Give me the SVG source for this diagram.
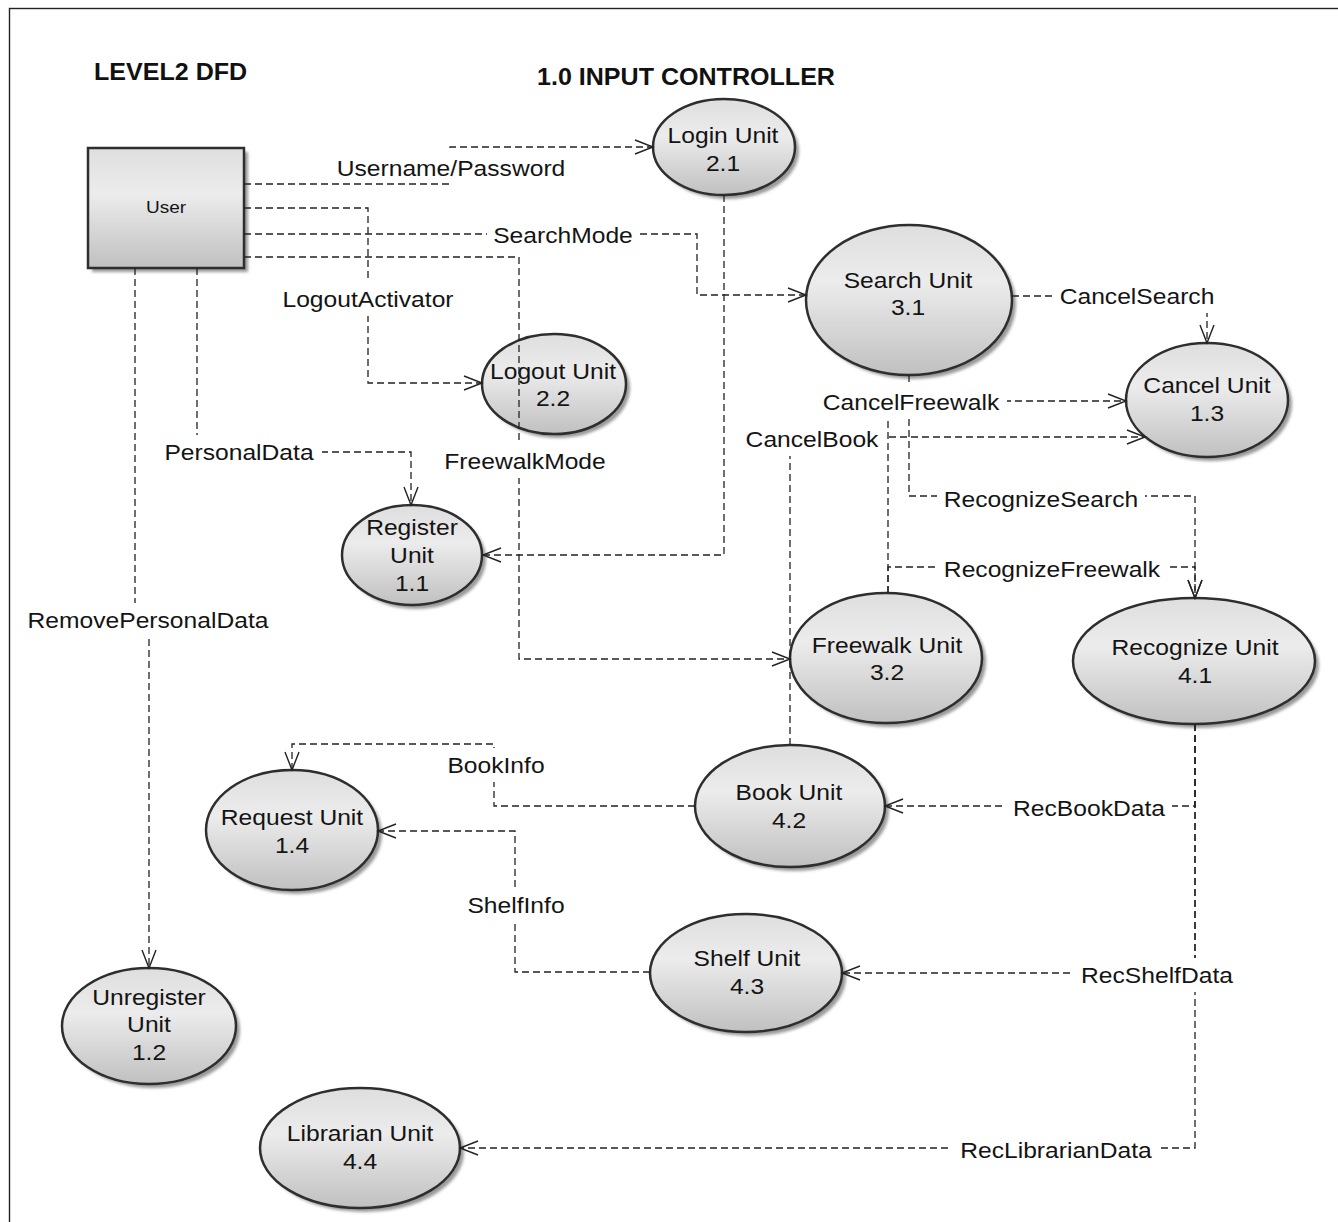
<svg xmlns="http://www.w3.org/2000/svg" width="1338" height="1222" viewBox="0 0 1338 1222">
  <style>
    .t { font-family: "Liberation Sans", Arial, sans-serif; font-size: 22px; fill: #141414; text-anchor: middle; }
    .title { font-family: "Liberation Sans", Arial, sans-serif; font-size: 23px; font-weight: bold; fill: #111; }
    .body { fill: url(#fillGrad); stroke: #2e2e2e; stroke-width: 2.5; }
    .shadow { fill: #9a9a9a; filter: url(#soft); }
    .flow { fill: none; stroke: #222; stroke-width: 1.3; stroke-dasharray: 7 4; marker-end: url(#arr); }
    .bg { fill: #fff; }
  </style>
  <defs>
    <linearGradient id="fillGrad" x1="0" y1="0" x2="0" y2="1">
      <stop offset="0" stop-color="#dedede"/>
      <stop offset="0.38" stop-color="#ececec"/>
      <stop offset="1" stop-color="#c0c0c0"/>
    </linearGradient>
    <filter id="soft" x="-10%" y="-10%" width="120%" height="120%">
      <feGaussianBlur stdDeviation="1.5"/>
    </filter>
    <!-- open V arrowhead shared by all flows -->
    <marker id="arr" markerUnits="userSpaceOnUse" markerWidth="22" markerHeight="20" viewBox="-20 -10 22 20" refX="0" refY="0" orient="auto">
      <path d="M-18,-7 L0,0 L-18,7" fill="none" stroke="#222" stroke-width="1.4" stroke-dasharray="none"/>
    </marker>
  </defs>

  <rect width="1338" height="1222" fill="#fff"/>
  <!-- page frame -->
  <rect x="9.5" y="8.5" width="1400" height="1300" fill="none" stroke="#222" stroke-width="1.4"/>

  <!-- headings -->
  <text class="title" transform="translate(94,80) scale(1.09,1)">LEVEL2 DFD</text>
  <text class="title" transform="translate(537,85) scale(1.09,1)">1.0 INPUT CONTROLLER</text>

  <!-- external entity -->
  <g id="user">
    <rect x="92" y="152" width="156" height="120" class="shadow"/>
    <rect x="88" y="148" width="156" height="120" class="body"/>
    <text class="t" style="font-size:17px" transform="translate(166,213) scale(1.12,1)">User</text>
  </g>

  <!-- processes -->
  <g id="login-2-1">
    <ellipse cx="728" cy="151" rx="71" ry="48" class="shadow"/>
    <ellipse cx="724" cy="147" rx="71" ry="48" class="body"/>
    <text class="t" transform="translate(723,143) scale(1.12,1)">Login Unit</text>
    <text class="t" transform="translate(723,171) scale(1.12,1)">2.1</text>
  </g>
  <g id="search-3-1">
    <ellipse cx="913" cy="304" rx="103" ry="75" class="shadow"/>
    <ellipse cx="909" cy="300" rx="103" ry="75" class="body"/>
    <text class="t" transform="translate(908,288) scale(1.12,1)">Search Unit</text>
    <text class="t" transform="translate(908,315) scale(1.12,1)">3.1</text>
  </g>
  <g id="cancel-1-3">
    <ellipse cx="1211" cy="404" rx="81" ry="57" class="shadow"/>
    <ellipse cx="1207" cy="400" rx="81" ry="57" class="body"/>
    <text class="t" transform="translate(1207,393) scale(1.12,1)">Cancel Unit</text>
    <text class="t" transform="translate(1207,421) scale(1.12,1)">1.3</text>
  </g>
  <g id="logout-2-2">
    <ellipse cx="558" cy="388" rx="72" ry="50" class="shadow"/>
    <ellipse cx="554" cy="384" rx="72" ry="50" class="body"/>
    <text class="t" transform="translate(553,379) scale(1.12,1)">Logout Unit</text>
    <text class="t" transform="translate(553,406) scale(1.12,1)">2.2</text>
  </g>
  <g id="register-1-1">
    <ellipse cx="416" cy="559" rx="70" ry="50" class="shadow"/>
    <ellipse cx="412" cy="555" rx="70" ry="50" class="body"/>
    <text class="t" transform="translate(412,535) scale(1.12,1)">Register</text>
    <text class="t" transform="translate(412,563) scale(1.12,1)">Unit</text>
    <text class="t" transform="translate(412,591) scale(1.12,1)">1.1</text>
  </g>
  <g id="freewalk-3-2">
    <ellipse cx="890" cy="662" rx="96" ry="65" class="shadow"/>
    <ellipse cx="886" cy="658" rx="96" ry="65" class="body"/>
    <text class="t" transform="translate(887,653) scale(1.12,1)">Freewalk Unit</text>
    <text class="t" transform="translate(887,680) scale(1.12,1)">3.2</text>
  </g>
  <g id="recognize-4-1">
    <ellipse cx="1198" cy="665" rx="121" ry="63" class="shadow"/>
    <ellipse cx="1194" cy="661" rx="121" ry="63" class="body"/>
    <text class="t" transform="translate(1195,655) scale(1.12,1)">Recognize Unit</text>
    <text class="t" transform="translate(1195,683) scale(1.12,1)">4.1</text>
  </g>
  <g id="book-4-2">
    <ellipse cx="794" cy="810" rx="95" ry="61" class="shadow"/>
    <ellipse cx="790" cy="806" rx="95" ry="61" class="body"/>
    <text class="t" transform="translate(789,800) scale(1.12,1)">Book Unit</text>
    <text class="t" transform="translate(789,828) scale(1.12,1)">4.2</text>
  </g>
  <g id="request-1-4">
    <ellipse cx="296" cy="834" rx="86" ry="60" class="shadow"/>
    <ellipse cx="292" cy="830" rx="86" ry="60" class="body"/>
    <text class="t" transform="translate(292,825) scale(1.12,1)">Request Unit</text>
    <text class="t" transform="translate(292,853) scale(1.12,1)">1.4</text>
  </g>
  <g id="shelf-4-3">
    <ellipse cx="750" cy="977" rx="96" ry="59" class="shadow"/>
    <ellipse cx="746" cy="973" rx="96" ry="59" class="body"/>
    <text class="t" transform="translate(747,966) scale(1.12,1)">Shelf Unit</text>
    <text class="t" transform="translate(747,994) scale(1.12,1)">4.3</text>
  </g>
  <g id="unregister-1-2">
    <ellipse cx="153" cy="1030" rx="87" ry="58" class="shadow"/>
    <ellipse cx="149" cy="1026" rx="87" ry="58" class="body"/>
    <text class="t" transform="translate(149,1005) scale(1.12,1)">Unregister</text>
    <text class="t" transform="translate(149,1032) scale(1.12,1)">Unit</text>
    <text class="t" transform="translate(149,1060) scale(1.12,1)">1.2</text>
  </g>
  <g id="librarian-4-4">
    <ellipse cx="364" cy="1152" rx="100" ry="60" class="shadow"/>
    <ellipse cx="360" cy="1148" rx="100" ry="60" class="body"/>
    <text class="t" transform="translate(360,1141) scale(1.12,1)">Librarian Unit</text>
    <text class="t" transform="translate(360,1169) scale(1.12,1)">4.4</text>
  </g>

  <!-- data flows -->
  <g id="connectors">
    <g id="flow-lines">
      <path class="flow" d="M244,184 H450 V147 H653"/>
      <path class="flow" d="M244,208 H368 V383 H482"/>
      <path class="flow" d="M244,234 H697 V295 H806"/>
      <path class="flow" d="M244,257 H519 V659 H790"/>
      <path class="flow" d="M197,268 V452 H411 V505"/>
      <path class="flow" d="M135,268 V620 H149 V968"/>
      <path class="flow" d="M724,195 V555 H483"/>
      <path class="flow" d="M1012,296 H1207 V343"/>
      <path class="flow" d="M909,375 V496 H1195 V598"/>
      <path class="flow" d="M888,593 V401 H1126"/>
      <path class="flow" d="M888,593 V567 H1195 V598"/>
      <path class="flow" d="M790,745 V437 H1145"/>
      <path class="flow" d="M695,806 H494 V744 H292 V770"/>
      <path class="flow" d="M650,972 H515 V831 H378"/>
      <path class="flow" d="M1195,724 V806 H885"/>
      <path class="flow" d="M1195,724 V973 H842"/>
      <path class="flow" d="M1195,724 V1148 H460"/>
    </g>
    <g id="flow-labels">
      <rect class="bg" x="329" y="150" width="245" height="33"/>
      <text class="t" transform="translate(451,176) scale(1.12,1)">Username/Password</text>

      <rect class="bg" x="274" y="282" width="189" height="34"/>
      <text class="t" transform="translate(368,307) scale(1.12,1)">LogoutActivator</text>

      <rect class="bg" x="487" y="218" width="153" height="34"/>
      <text class="t" transform="translate(563,243) scale(1.12,1)">SearchMode</text>

      <rect class="bg" x="437" y="444" width="176" height="34"/>
      <text class="t" transform="translate(525,469) scale(1.12,1)">FreewalkMode</text>

      <rect class="bg" x="157" y="435" width="165" height="34"/>
      <text class="t" transform="translate(239,460) scale(1.12,1)">PersonalData</text>

      <rect class="bg" x="20" y="603" width="256" height="34"/>
      <text class="t" transform="translate(148,628) scale(1.12,1)">RemovePersonalData</text>

      <rect class="bg" x="1052" y="279" width="170" height="34"/>
      <text class="t" transform="translate(1137,304) scale(1.12,1)">CancelSearch</text>

      <rect class="bg" x="815" y="385" width="192" height="34"/>
      <text class="t" transform="translate(911,410) scale(1.12,1)">CancelFreewalk</text>

      <rect class="bg" x="738" y="422" width="148" height="34"/>
      <text class="t" transform="translate(812,447) scale(1.12,1)">CancelBook</text>

      <rect class="bg" x="937" y="482" width="208" height="34"/>
      <text class="t" transform="translate(1041,507) scale(1.12,1)">RecognizeSearch</text>

      <rect class="bg" x="936" y="552" width="232" height="34"/>
      <text class="t" transform="translate(1052,577) scale(1.12,1)">RecognizeFreewalk</text>

      <rect class="bg" x="442" y="748" width="109" height="34"/>
      <text class="t" transform="translate(496,773) scale(1.12,1)">BookInfo</text>

      <rect class="bg" x="461" y="888" width="110" height="34"/>
      <text class="t" transform="translate(516,913) scale(1.12,1)">ShelfInfo</text>

      <rect class="bg" x="1006" y="791" width="166" height="34"/>
      <text class="t" transform="translate(1089,816) scale(1.12,1)">RecBookData</text>

      <rect class="bg" x="1074" y="958" width="167" height="34"/>
      <text class="t" transform="translate(1157,983) scale(1.12,1)">RecShelfData</text>

      <rect class="bg" x="952" y="1133" width="208" height="34"/>
      <text class="t" transform="translate(1056,1158) scale(1.12,1)">RecLibrarianData</text>
    </g>
  </g>
</svg>
